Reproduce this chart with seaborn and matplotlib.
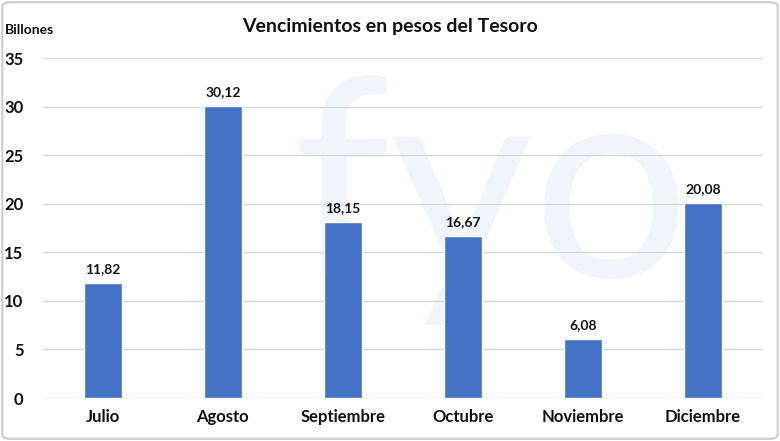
import matplotlib
matplotlib.use("Agg")
import matplotlib.pyplot as plt
import seaborn as sns
import pandas as pd
from matplotlib.patches import FancyBboxPatch

meses = ["Julio", "Agosto", "Septiembre", "Octubre", "Noviembre", "Diciembre"]
billones = [11.82, 30.12, 18.15, 16.67, 6.08, 20.08]
etiquetas = ["11,82", "30,12", "18,15", "16,67", "6,08", "20,08"]

df = pd.DataFrame({"mes": meses, "valor": billones})

sns.set_style("white")
plt.rcParams["font.family"] = ["Lato", "DejaVu Sans"]

fig = plt.figure(figsize=(7.8, 4.41), dpi=100)
ax = fig.add_axes([0.055, 0.0975, 0.923, 0.7705])

sns.barplot(data=df, x="mes", y="valor", color="#4472C4", width=0.32, ax=ax,
            saturation=1, zorder=3)

# faint watermark behind the bars
ax.text(0.63, 0.55, "fyo", transform=fig.transFigure, fontsize=200, color="#f1f5fb",
        ha="center", va="center", zorder=0.5)

for i, (v, t) in enumerate(zip(billones, etiquetas)):
    ax.text(i, v + 0.8, t, ha="center", va="bottom", fontsize=10,
            fontweight="bold", color="#111111", zorder=4)

ax.set_ylim(0, 35)
ax.set_yticks(range(0, 36, 5))
ax.yaxis.grid(True, color="#d9d9d9", linewidth=1)
ax.set_axisbelow(True)
for s in ax.spines.values():
    s.set_visible(False)
ax.tick_params(axis="both", length=0)
ax.tick_params(axis="y", pad=14, labelsize=12)
ax.tick_params(axis="x", pad=8, labelsize=12)
for lbl in ax.get_xticklabels() + ax.get_yticklabels():
    lbl.set_fontweight("bold")
    lbl.set_color("#111111")
ax.set_xlabel("")
ax.set_ylabel("")

fig.text(0.5, 0.94, "Vencimientos en pesos del Tesoro", ha="center", va="center",
         fontsize=14, fontweight="bold", color="#111111")
fig.text(0.006, 0.933, "Billones", ha="left", va="center", fontsize=10,
         fontweight="bold", color="#111111")

border = FancyBboxPatch((0.003, 0.005), 0.994, 0.99, boxstyle="round,pad=0,rounding_size=0.01",
                        transform=fig.transFigure, fill=False, edgecolor="#cccccc",
                        linewidth=1.5)
fig.patches.append(border)

fig.savefig("out.png", dpi=100)
